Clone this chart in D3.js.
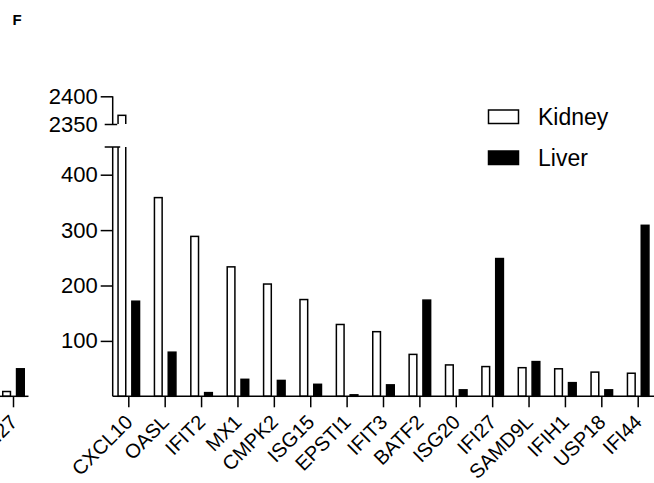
<!DOCTYPE html>
<html>
<head>
<meta charset="utf-8">
<script src="https://cdn.jsdelivr.net/npm/d3@7"></script>
<style>
body { margin: 0; background: #fff; }
svg { display: block; font-family: "Liberation Sans", Arial, sans-serif; }
</style>
</head>
<body>
<div class="container"></div>
<script>
// values
const genes = ["CXCL10", "OASL", "IFIT2", "MX1", "CMPK2", "ISG15", "EPSTI1", "IFIT3",
  "BATF2", "ISG20", "IFI27", "SAMD9L", "IFIH1", "USP18", "IFI44"];
const kidney = [2367, 360, 290, 235, 204, 176, 131, 118, 77, 58, 55, 53, 51, 45, 43];
const liver = [173, 81, 8, 32, 30, 23, 4, 22, 175, 13, 250, 64, 26, 13, 310];
const series = ["Kidney", "Liver"];
const lowTicks = [100, 200, 300, 400];
const highTicks = [2350, 2400];
// neighbouring panel, cut off at the left edge
const prevGenes = ["IFI27"];
const prevKidney = [10];
const prevLiver = [51];

const width = 654, height = 483;
const axisX = 112.7, baseY = 396.3;
const fills = { Kidney: "#fff", Liver: "#000" };

const svg = d3.select(".container").append("svg")
  .attr("width", width)
  .attr("height", height);

const defs = svg.append("defs");
defs.append("clipPath").attr("id", "clipLow")
  .append("rect").attr("x", 0).attr("y", 147).attr("width", width).attr("height", 260);
defs.append("clipPath").attr("id", "clipHigh")
  .append("rect").attr("x", 0).attr("y", 80).attr("width", width).attr("height", 44);

const yLow = d3.scaleLinear().domain([0, 450]).range([baseY, 147]);
const yHigh = d3.scaleLinear().domain([2350, 2400]).range([124, 96.3]);
const x = d3.scalePoint().domain(genes).range([128.3, 637.7]);
const xs = d3.scaleBand().domain(series).range([-11, 12]).paddingInner(0.333);

// panel letter
svg.append("text")
  .attr("x", 12.5).attr("y", 25)
  .attr("font-size", 15).attr("font-weight", "bold")
  .text("F");

function rows(cats, kid, liv) {
  return cats.flatMap((g, i) => [
    { gene: g, key: "Kidney", value: kid[i] },
    { gene: g, key: "Liver", value: liv[i] }
  ]);
}

function drawBars(g, data, xScale) {
  // lower segment
  g.append("g").attr("clip-path", "url(#clipLow)")
    .selectAll("rect").data(data).join("rect")
    .attr("x", d => xScale(d.gene) + xs(d.key) + 0.75)
    .attr("width", xs.bandwidth() - 1.5)
    .attr("y", d => yLow(Math.min(d.value, 470)) + 0.75)
    .attr("height", d => baseY - yLow(Math.min(d.value, 470)) - 0.75)
    .attr("fill", d => fills[d.key])
    .attr("stroke", "#000")
    .attr("stroke-width", 1.5);
  // upper segment
  g.append("g").attr("clip-path", "url(#clipHigh)")
    .selectAll("rect").data(data.filter(d => d.value > 2350)).join("rect")
    .attr("x", d => xScale(d.gene) + xs(d.key) + 0.75)
    .attr("width", xs.bandwidth() - 1.5)
    .attr("y", d => yHigh(d.value) + 0.75)
    .attr("height", d => yHigh(2340) - yHigh(d.value))
    .attr("fill", d => fills[d.key])
    .attr("stroke", "#000")
    .attr("stroke-width", 1.5);
}

function drawXAxis(g, xScale, x0, x1) {
  const ax = g.append("g")
    .attr("transform", `translate(0,${baseY})`)
    .call(d3.axisBottom(xScale).tickSize(11).tickSizeOuter(0));
  ax.select(".domain").remove();
  ax.selectAll(".tick line").attr("stroke", "#000").attr("stroke-width", 1.5);
  ax.selectAll(".tick text")
    .attr("x", 0).attr("y", 0).attr("dy", 0)
    .attr("text-anchor", "end")
    .attr("transform", "translate(5,27) rotate(-45)")
    .attr("font-size", 20)
    .attr("font-family", "Liberation Sans, Arial, sans-serif")
    .attr("fill", "#000");
  g.append("line")
    .attr("x1", x0).attr("x2", x1)
    .attr("y1", baseY).attr("y2", baseY)
    .attr("stroke", "#000").attr("stroke-width", 1.5);
}

// left, cut-off panel
const prev = svg.append("g");
const xPrev = d3.scalePoint().domain(prevGenes).range([13, 13]);
drawBars(prev, rows(prevGenes, prevKidney, prevLiver), xPrev);
drawXAxis(prev, xPrev, 0, 28.5);

// main panel
const main = svg.append("g");
drawBars(main, rows(genes, kidney, liver), x);
drawXAxis(main, x, axisX, width);

// y axis, lower segment
const yAxLow = main.append("g")
  .attr("transform", `translate(${axisX},0)`)
  .call(d3.axisLeft(yLow).tickValues(lowTicks).tickFormat(d3.format("d"))
    .tickSize(12).tickPadding(3).tickSizeOuter(0));
yAxLow.select(".domain").remove();
yAxLow.append("line")
  .attr("y1", baseY).attr("y2", 147)
  .attr("stroke", "#000").attr("stroke-width", 1.5);

// y axis, upper segment
const yAxHigh = main.append("g")
  .attr("transform", `translate(${axisX},0)`)
  .call(d3.axisLeft(yHigh).tickValues(highTicks).tickFormat(d3.format("d"))
    .tickSize(12).tickPadding(3).tickSizeOuter(0));
yAxHigh.select(".domain").remove();
yAxHigh.append("line")
  .attr("y1", yHigh(2350)).attr("y2", yHigh(2400))
  .attr("stroke", "#000").attr("stroke-width", 1.5);
yAxHigh.selectAll(".tick line").filter(d => d === 2350)
  .attr("x1", 4.5).attr("x2", -8);

[yAxLow, yAxHigh].forEach(a => {
  a.selectAll(".tick line").attr("stroke", "#000").attr("stroke-width", 1.5);
  a.selectAll(".tick text")
    .attr("font-size", 22)
    .attr("font-family", "Liberation Sans, Arial, sans-serif")
    .attr("fill", "#000");
});

// break mark on top of the lower segment
main.append("line")
  .attr("x1", axisX - 8).attr("x2", axisX + 7.5)
  .attr("y1", yLow(450)).attr("y2", yLow(450))
  .attr("stroke", "#000").attr("stroke-width", 1.5);

// legend
const legend = svg.append("g").attr("transform", "translate(488.5,110)");
const item = legend.selectAll("g").data(series).join("g")
  .attr("transform", (d, i) => `translate(0,${i * 41})`);
item.append("rect")
  .attr("width", 30).attr("height", 13.5)
  .attr("fill", d => fills[d])
  .attr("stroke", "#000").attr("stroke-width", 1.5);
item.append("text")
  .attr("x", 49.5).attr("y", 15)
  .attr("font-size", 23)
  .text(d => d);
</script>
</body>
</html>
